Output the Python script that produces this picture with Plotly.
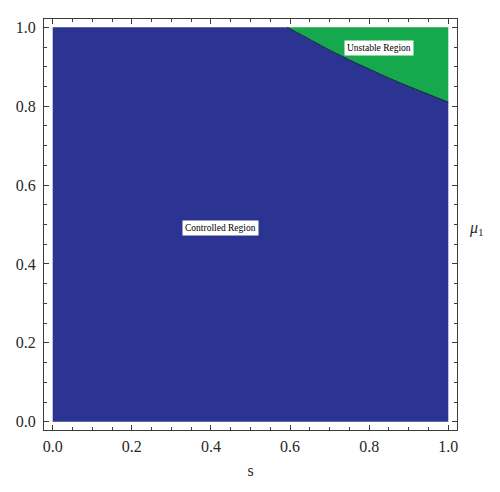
import plotly.graph_objects as go

# Boundary between controlled and unstable regions
boundary_s = [0.593, 0.62, 0.65, 0.70, 0.75, 0.80, 0.85, 0.90, 0.95, 1.0]
boundary_mu = [1.0, 0.985, 0.968, 0.942, 0.917, 0.893, 0.871, 0.850, 0.829, 0.81]

region_labels = ["Controlled Region", "Unstable Region"]
label_s = [0.424, 0.826]
label_mu = [0.49, 0.948]

tick_vals = [0.0, 0.2, 0.4, 0.6, 0.8, 1.0]

blue = "rgb(44,52,145)"
green = "rgb(22,168,76)"
serif = "Liberation Serif, Times New Roman, serif"

# Controlled region polygon
ctrl_x = [0.0, 1.0] + boundary_s[::-1] + [0.0, 0.0]
ctrl_y = [0.0, 0.0] + boundary_mu[::-1] + [1.0, 0.0]
# Unstable region polygon
uns_x = boundary_s + [1.0, boundary_s[0]]
uns_y = boundary_mu + [1.0, boundary_mu[0]]

fig = go.Figure()
fig.add_trace(go.Scatter(x=ctrl_x, y=ctrl_y, fill="toself", fillcolor=blue,
                         mode="lines", line=dict(width=0, color=blue), hoverinfo="skip"))
fig.add_trace(go.Scatter(x=uns_x, y=uns_y, fill="toself", fillcolor=green,
                         mode="lines", line=dict(width=0, color=green), hoverinfo="skip"))
fig.add_trace(go.Scatter(x=boundary_s, y=boundary_mu, mode="lines",
                         line=dict(width=1, color="rgb(20,30,60)"), hoverinfo="skip"))

for txt, sx, my in zip(region_labels, label_s, label_mu):
    fig.add_annotation(x=sx, y=my, text=txt, showarrow=False,
                       font=dict(family=serif, size=9.5, color="black"),
                       bgcolor="white", borderpad=2)

fig.add_annotation(xref="paper", yref="paper", x=1.025, y=0.49, xanchor="left",
                   text="<i>μ</i><sub>1</sub>", showarrow=False,
                   font=dict(family=serif, size=16, color="rgb(40,40,40)"))

axis_common = dict(
    showgrid=False, zeroline=False, showline=True, linecolor="rgb(60,60,60)", linewidth=1,
    mirror="ticks", ticks="inside", ticklen=5, tickcolor="rgb(60,60,60)",
    tickvals=tick_vals, tickformat=".1f", automargin=False,
    tickfont=dict(family=serif, size=16, color="rgb(40,40,40)"),
    minor=dict(ticks="inside", ticklen=3, dtick=0.05, tick0=0, tickcolor="rgb(60,60,60)", showgrid=False),
)

fig.update_layout(
    width=500, height=492,
    margin=dict(l=44, r=43, t=19, b=62),
    plot_bgcolor="white", paper_bgcolor="white",
    showlegend=False,
    xaxis=dict(range=[-0.022, 1.022], ticklabelstandoff=2,
               title=dict(text="s", standoff=10,
               font=dict(family=serif, size=16, color="rgb(40,40,40)")), **axis_common),
    yaxis=dict(range=[-0.021, 1.021], ticklabelstandoff=4, **axis_common),
)

fig.write_html("out.html", config={"displayModeBar": False},
               post_script="document.body.style.margin='0';")
